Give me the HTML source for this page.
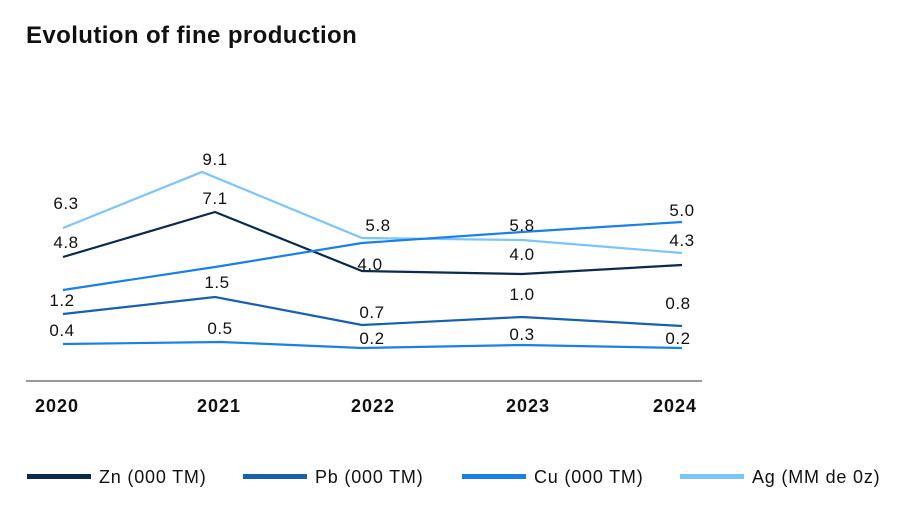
<!DOCTYPE html>
<html><head><meta charset="utf-8"><style>
body{margin:0;background:#fff;width:904px;height:502px;overflow:hidden;font-family:"Liberation Sans",sans-serif}
</style></head><body>
<svg width="904" height="502" xmlns="http://www.w3.org/2000/svg" font-family="Liberation Sans, sans-serif">
<text x="26" y="43" font-size="24" font-weight="bold" fill="#111" letter-spacing="0.4">Evolution of fine production</text>
<g fill="none" stroke-width="2.2">
<polyline stroke="#7cc4fa" points="63,228 202,172 362,238 522,240 682,253"/>
<polyline stroke="#0b2a4d" points="63,257 215,212 362,271 522,274 682,265"/>
<polyline stroke="#1a80e8" points="63,290 215,267 362,243 522,232 682,222"/>
<polyline stroke="#1760ad" points="63,314 215,297 362,325 522,317 682,326"/>
<polyline stroke="#1a80e8" points="63,344 221,342 362,348 522,345 682,348"/>
</g>
<line x1="26" y1="381" x2="702" y2="381" stroke="#333" stroke-width="1"/>
<g font-size="17" fill="#111" text-anchor="middle" letter-spacing="0.5">
<text x="66" y="209">6.3</text><text x="215" y="165">9.1</text><text x="378" y="231">5.8</text><text x="522" y="231">5.8</text><text x="682" y="216">5.0</text>
<text x="66" y="248">4.8</text><text x="215" y="204">7.1</text><text x="370" y="270">4.0</text><text x="522" y="260">4.0</text><text x="682" y="246">4.3</text>
<text x="62" y="306">1.2</text><text x="217" y="288">1.5</text><text x="372" y="318">0.7</text><text x="522" y="300">1.0</text><text x="678" y="309">0.8</text>
<text x="62" y="336">0.4</text><text x="220" y="334">0.5</text><text x="372" y="344">0.2</text><text x="522" y="340">0.3</text><text x="678" y="344">0.2</text>
</g>
<g font-size="18" font-weight="bold" fill="#111" text-anchor="middle" letter-spacing="1">
<text x="57" y="412">2020</text><text x="219" y="412">2021</text><text x="373" y="412">2022</text><text x="528" y="412">2023</text><text x="675" y="412">2024</text>
</g>
<g font-size="18" fill="#111" letter-spacing="0.8">
<rect x="27" y="474" width="64" height="5" fill="#0b2a4d"/><text x="99" y="483">Zn (000 TM)</text>
<rect x="243" y="474" width="64" height="5" fill="#1760ad"/><text x="315" y="483">Pb (000 TM)</text>
<rect x="462" y="474" width="64" height="5" fill="#1a80e8"/><text x="534" y="483">Cu (000 TM)</text>
<rect x="680" y="474" width="64" height="5" fill="#7cc4fa"/><text x="752" y="483">Ag (MM de 0z)</text>
</g>
</svg>
</body></html>
